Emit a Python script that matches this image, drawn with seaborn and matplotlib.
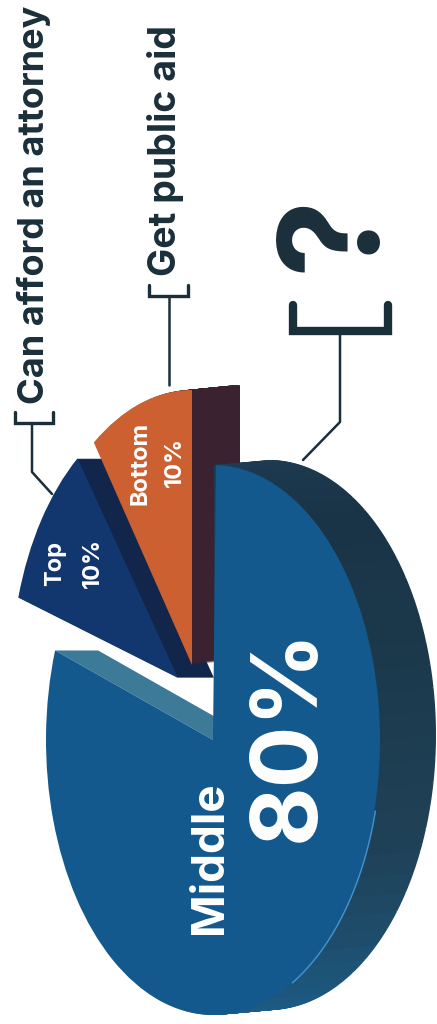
import numpy as np
import matplotlib
matplotlib.use('Agg')
import matplotlib.pyplot as plt
import seaborn as sns

# Data
shares = [80, 10, 10]
slice_names = ['Middle', 'Top', 'Bottom']
slice_labels = ['80%', '10%', '10%']
callouts = ['Can afford an attorney', 'Get public aid', '?']

# Colours
middle_col = '#13598e'
top_col = '#12376e'
bottom_col = '#cc6030'
top_side = '#12264c'
bottom_side = '#3a2230'
cut_side = '#3d7a98'
ink = '#1b2f3a'

# Page is laid out in picture pixels, the ellipse is squeezed in x
W, H = 437, 1024
rx, ry = 167, 275
squeeze = rx / ry


def py(y):
    return (H - y) * squeeze


def slab(ax, share, start, cx, cy, col):
    ax.pie([share, 100 - share], startangle=start, colors=[col, 'none'], radius=rx,
           center=(cx, py(cy)), wedgeprops={'linewidth': 0})


sns.set_theme(style='white')
plt.rcParams['font.family'] = ['Inter', 'DejaVu Sans']

fig = plt.figure(figsize=(W / 100, H / 100), dpi=100)
ax = fig.add_axes([0, 0, 1, 1])

# Top slice with its dark side
for d in range(36, 0, -1):
    slab(ax, shares[1], 127, 178 + d, 678, top_side)
slab(ax, shares[1], 127, 178, 678, top_col)

# Bottom slice, side first
for d in range(48, 0, -1):
    slab(ax, shares[2], 90, 192 + d, 665 - d * 0.1, bottom_side)
slab(ax, shares[2], 90, 192, 665, bottom_col)

# Rim of the big slice, only the right half ever shows
rim_cols = sns.blend_palette(['#1c6090', '#1d5478', '#1f4157', '#1c3a4d', '#1a3446', '#1d3b52'], 38)
for d in range(56, 0, -1):
    ax.pie([5] * 38 + [170], startangle=-100, colors=list(rim_cols) + ['none'], radius=rx,
           center=(213 + d, py(740 - d * 0.09)), wedgeprops={'linewidth': 0})

# Cut side of the big slice
cut_angle = np.radians(161)
x0, y0 = 213 + rx * np.cos(cut_angle), 740 - ry * np.sin(cut_angle)
ax.fill([x0, x0 + 43, 213 + 43, 213], [py(y0), py(y0), py(740), py(740)], color=cut_side, lw=0)

# Big slice face
slab(ax, shares[0], 161, 213, 740, middle_col)

# Highlight along the lower edge
t = np.radians(np.arange(-62, -14))
ax.plot(214 + rx * np.cos(t), py(740 - ry * np.sin(t)), color='#3f92d2', lw=1.1)

# Callout lines
ax.plot([15, 15, 53, 53], py(np.array([412, 423, 423, 412])), color=ink, lw=2.4, solid_joinstyle='miter')
ax.plot([32, 32, 52], py(np.array([423, 472, 494])), color=ink, lw=1.8)
ax.plot([149, 149, 188, 188], py(np.array([285, 296, 296, 285])), color=ink, lw=2.4, solid_joinstyle='miter')
ax.plot([169, 169], py(np.array([296, 385])), color=ink, lw=1.8)
ax.plot([293, 293, 388, 388], py(np.array([305, 331, 331, 305])), color=ink, lw=6, solid_joinstyle='miter')
ax.plot([340, 340, 303], py(np.array([331, 422, 460])), color=ink, lw=1.8)

# Text
txt = {'rotation': 90, 'ha': 'center', 'va': 'center', 'rotation_mode': 'anchor'}
ax.text(34, py(205), callouts[0], color=ink, fontsize=26, fontweight='bold', **txt)
ax.text(166, py(151), callouts[1], color=ink, fontsize=27, fontweight='bold', **txt)
ax.text(338, py(233), callouts[2], color=ink, fontsize=100, fontweight='bold', **txt)

ax.text(55, py(563), slice_names[1], color='white', fontsize=17, fontweight='bold', **txt)
ax.text(93, py(563), slice_labels[1], color='white', fontsize=17, fontweight='bold', **txt)
ax.text(141, py(463), slice_names[2], color='white', fontsize=17, fontweight='bold', **txt)
ax.text(175, py(462), slice_labels[2], color='white', fontsize=17, fontweight='bold', **txt)
ax.text(210, py(858), slice_names[0], color='white', fontsize=33, fontweight='bold', **txt)
ax.text(290, py(735), slice_labels[0], color='white', fontsize=66, fontweight='bold', **txt)

# pie() resets these on each call
ax.set_aspect('auto')
ax.set_xlim(0, W)
ax.set_ylim(0, H * squeeze)
ax.axis('off')

fig.savefig('out.png', dpi=100, facecolor='white')
